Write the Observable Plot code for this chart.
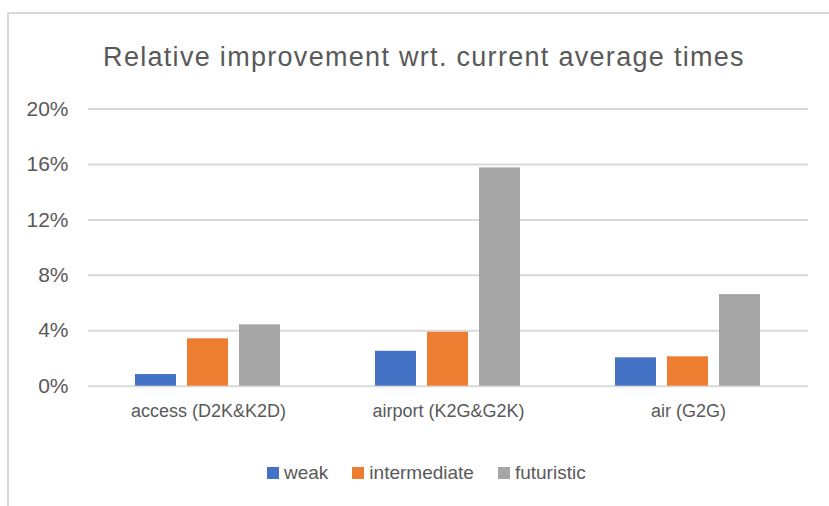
<!DOCTYPE html>
<html><head><meta charset="utf-8">
<script src="https://cdn.jsdelivr.net/npm/d3@7"></script>
<script src="https://cdn.jsdelivr.net/npm/@observablehq/plot@0.6"></script>
<style>
body{margin:0;width:829px;height:506px;overflow:hidden;background:#fff;font-family:"Liberation Sans",Arial,sans-serif;color:#595959;position:relative}
#frame{position:absolute;left:7px;top:12px;width:860px;height:500px;border:2px solid #d9d9d9;box-sizing:border-box}
#title{position:absolute;left:0;width:848px;top:42px;text-align:center;font-size:27px;letter-spacing:1.3px;line-height:30px;white-space:nowrap}
#chart{position:absolute;left:0;top:90px}
#legend{position:absolute;left:267px;top:462px;display:flex;font-size:19px;line-height:22px}
.item{display:flex;align-items:center;margin-right:24px}
.sw{width:12px;height:12px;margin-right:5px}
#chart g[aria-label="y-axis tick label"] text, #chart g[aria-label="y-axis"] text{font-size:21px}
</style></head>
<body>
<div id="frame"></div>
<div id="title">Relative improvement wrt. current average times</div>
<div id="chart"></div>
<div id="legend"></div>
<script>
const categories = ["access (D2K&K2D)", "airport (K2G&G2K)", "air (G2G)"];
const scenarios = ["weak", "intermediate", "futuristic"];
const weak = [0.0084, 0.0252, 0.0205];
const intermediate = [0.0342, 0.0389, 0.0212];
const futuristic = [0.0443, 0.1575, 0.0661];
const yTicks = [0, 0.04, 0.08, 0.12, 0.16, 0.20];
const colors = ["#4472c4", "#ed7d31", "#a5a5a5"];

const seriesValues = [weak, intermediate, futuristic];
const data = categories.flatMap((c, i) => scenarios.map((s, j) => ({category: c, scenario: s, value: seriesValues[j][i]})));

const chart = Plot.plot({
  width: 829, height: 340,
  marginLeft: 87, marginRight: 20, marginTop: 18.5, marginBottom: 44.3,
  style: {fontFamily: "Liberation Sans, Arial, sans-serif", fontSize: "18px", color: "#595959", background: "transparent"},
  fx: {domain: categories, padding: 0, axis: "bottom", label: null, tickSize: 0, tickPadding: 18},
  x: {domain: scenarios, axis: null, paddingInner: 0.21, paddingOuter: 0.88},
  y: {domain: [0, 0.2], ticks: yTicks, tickFormat: d3.format(".0%"), tickSize: 0, tickPadding: 20, label: null},
  color: {domain: scenarios, range: colors},
  marks: [
    Plot.ruleY(yTicks, {stroke: "#d9d9d9", strokeWidth: 2}),
    Plot.barY(data, {fx: "category", x: "scenario", y: "value", fill: "scenario"})
  ]
});
document.getElementById("chart").appendChild(chart);

const legend = document.getElementById("legend");
scenarios.forEach((s, j) => {
  const it = document.createElement("div");
  it.className = "item";
  it.innerHTML = `<span class="sw" style="background:${colors[j]}"></span><span>${s}</span>`;
  legend.appendChild(it);
});
</script>
</body></html>
